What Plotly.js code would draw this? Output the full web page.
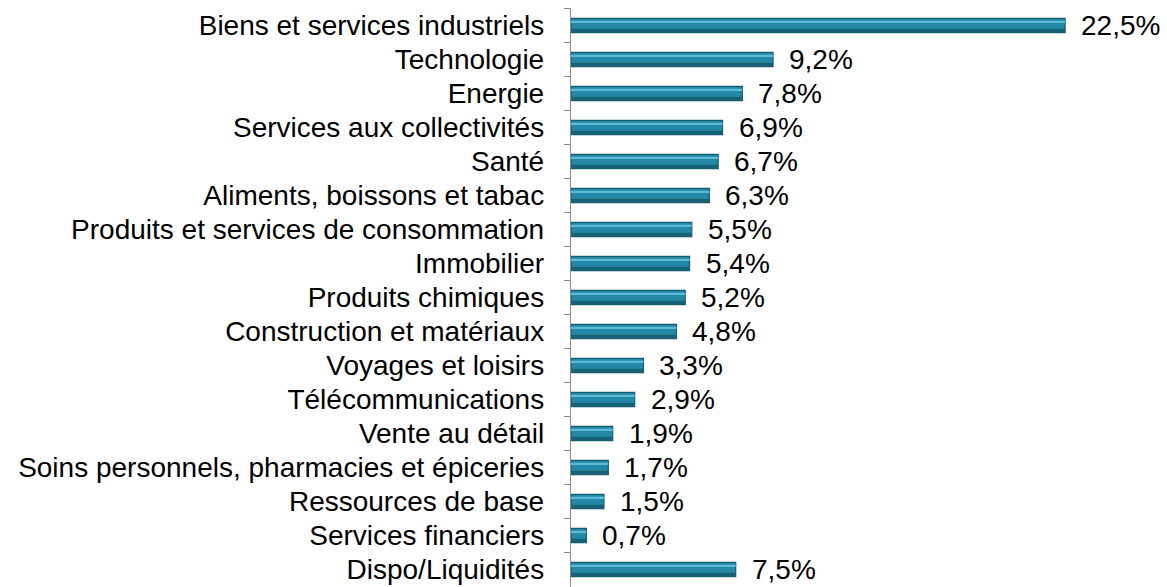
<!DOCTYPE html>
<html>
<head>
<meta charset="utf-8">
<script src="https://cdn.plot.ly/plotly-3.0.1.min.js"></script>
<style>html,body{margin:0;padding:0;background:#fff;}#chart{width:1167px;height:587px;}</style>
</head>
<body>
<div id="chart"></div>
<script>
const categories = [
  "Biens et services industriels",
  "Technologie",
  "Energie",
  "Services aux collectivités",
  "Santé",
  "Aliments, boissons et tabac",
  "Produits et services de consommation",
  "Immobilier",
  "Produits chimiques",
  "Construction et matériaux",
  "Voyages et loisirs",
  "Télécommunications",
  "Vente au détail",
  "Soins personnels, pharmacies et épiceries",
  "Ressources de base",
  "Services financiers",
  "Dispo/Liquidités"
];
const values = [22.5, 9.2, 7.8, 6.9, 6.7, 6.3, 5.5, 5.4, 5.2, 4.8, 3.3, 2.9, 1.9, 1.7, 1.5, 0.7, 7.5];
const valueLabels = ["22,5%","9,2%","7,8%","6,9%","6,7%","6,3%","5,5%","5,4%","5,2%","4,8%","3,3%","2,9%","1,9%","1,7%","1,5%","0,7%","7,5%"];

const font = "Arial, 'Liberation Sans', sans-serif";
const BW = 0.42;

const base = {
  type: "bar", orientation: "h", x: values, y: categories,
  width: BW, offset: -BW / 2,
  marker: { color: "#2288a6", line: { color: "#165c70", width: 1.2 } },
  hoverinfo: "skip"
};
const highlight = {
  type: "bar", orientation: "h", x: values, y: categories,
  width: 0.07, offset: -0.14,
  marker: { color: "#5bbad5", line: { width: 0 } },
  hoverinfo: "skip"
};
const shade = {
  type: "bar", orientation: "h", x: values, y: categories,
  width: 0.1, offset: 0.095,
  marker: { color: "#186278", line: { width: 0 } },
  hoverinfo: "skip"
};

const annotations = values.map((v, i) => ({
  x: v, y: categories[i], xref: "x", yref: "y",
  text: valueLabels[i], showarrow: false,
  xanchor: "left", yanchor: "middle", xshift: 14, yshift: 0,
  font: { family: font, size: 28, color: "#000" }
}));

const layout = {
  width: 1167, height: 587,
  margin: { l: 571, r: 36, t: 8, b: 0 },
  paper_bgcolor: "#fff", plot_bgcolor: "#fff",
  showlegend: false,
  barmode: "overlay",
  xaxis: { range: [0, 25.5], visible: false, fixedrange: true },
  yaxis: {
    type: "category",
    autorange: "reversed",
    showline: true, linecolor: "#8c8c8c", linewidth: 1.2,
    ticks: "outside", tickson: "boundaries", ticklen: 6, tickcolor: "#8c8c8c",
    ticklabelstandoff: 20,
    showgrid: false, zeroline: false,
    tickfont: { family: font, size: 28, color: "#000" }
  },
  annotations: annotations
};

Plotly.newPlot("chart", [base, highlight, shade], layout, { displayModeBar: false, staticPlot: true });
</script>
</body>
</html>
